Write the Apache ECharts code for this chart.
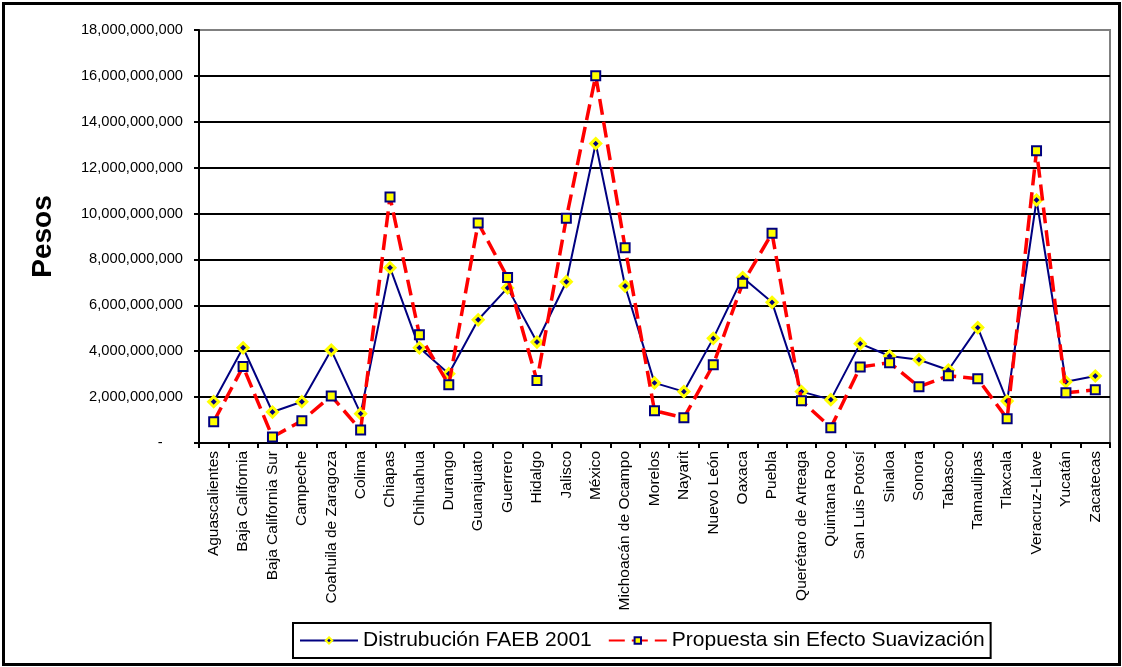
<!DOCTYPE html>
<html>
<head>
<meta charset="utf-8">
<script src="https://cdn.jsdelivr.net/npm/echarts@6/dist/echarts.min.js"></script>
<style>
  html, body { margin: 0; padding: 0; background: #fff; }
  #chart { width: 1122px; height: 667px; }
</style>
</head>
<body>
<div id="chart"></div>
<script>
const categories = [
  'Aguascalientes', 'Baja California', 'Baja California Sur', 'Campeche',
  'Coahuila de Zaragoza', 'Colima', 'Chiapas', 'Chihuahua', 'Durango',
  'Guanajuato', 'Guerrero', 'Hidalgo', 'Jalisco', 'México',
  'Michoacán de Ocampo', 'Morelos', 'Nayarit', 'Nuevo León', 'Oaxaca',
  'Puebla', 'Querétaro de Arteaga', 'Quintana Roo', 'San Luis Potosí',
  'Sinaloa', 'Sonora', 'Tabasco', 'Tamaulipas', 'Tlaxcala',
  'Veracruz-Llave', 'Yucatán', 'Zacatecas'
];

const seriesNames = ['Distrubución FAEB 2001', 'Propuesta sin Efecto Suavización'];

// values in pesos
const faeb2001 = [
  1.80e9, 4.15e9, 1.35e9, 1.80e9, 4.05e9, 1.28e9, 7.64e9, 4.15e9, 3.02e9,
  5.37e9, 6.76e9, 4.40e9, 7.03e9, 13.05e9, 6.84e9, 2.62e9, 2.24e9, 4.56e9,
  7.21e9, 6.13e9, 2.24e9, 1.89e9, 4.33e9, 3.79e9, 3.63e9, 3.18e9, 5.03e9,
  1.83e9, 10.59e9, 2.67e9, 2.92e9
];

const propuesta = [
  0.93e9, 3.33e9, 0.26e9, 0.97e9, 2.05e9, 0.57e9, 10.72e9, 4.72e9, 2.54e9,
  9.59e9, 7.21e9, 2.72e9, 9.80e9, 16.01e9, 8.51e9, 1.41e9, 1.10e9, 3.41e9,
  6.96e9, 9.14e9, 1.84e9, 0.67e9, 3.31e9, 3.50e9, 2.45e9, 2.93e9, 2.80e9,
  1.06e9, 12.74e9, 2.19e9, 2.32e9
];

const yMin = 0, yMax = 18e9, yInterval = 2e9;
const yAxisTitle = 'Pesos';

const FONT = "'Liberation Sans', Arial, sans-serif";

function fmt(v) {
  if (v === 0) return '-     ';
  return Math.round(v).toString().replace(/\B(?=(\d{3})+(?!\d))/g, ',');
}

const chart = echarts.init(document.getElementById('chart'), null, { renderer: 'canvas' });

chart.setOption({
  animation: false,
  backgroundColor: '#ffffff',
  textStyle: { fontFamily: FONT },
  graphic: [{
    type: 'rect',
    shape: { x: 3.5, y: 3.5, width: 1116, height: 661 },
    style: { fill: 'none', stroke: '#000', lineWidth: 3 },
    z: 100, silent: true
  }],
  grid: {
    left: 199, top: 30, right: 12, bottom: 224,
    show: true, borderColor: '#808080', borderWidth: 2, backgroundColor: '#fff'
  },
  legend: {
    left: 293, top: 623,
    padding: [7, 6, 7, 6],
    itemWidth: 58, itemHeight: 8, itemGap: 16,
    borderColor: '#000', borderWidth: 2,
    textStyle: { fontFamily: FONT, fontSize: 21, color: '#000' },
    data: seriesNames
  },
  xAxis: {
    type: 'category',
    data: categories,
    boundaryGap: true,
    axisLine: { lineStyle: { color: '#000', width: 2 } },
    axisTick: { show: true, alignWithLabel: false, length: 5, lineStyle: { color: '#000', width: 2 } },
    axisLabel: {
      rotate: 90, interval: 0, margin: 8,
      fontFamily: FONT, fontSize: 15.5, color: '#000'
    },
    splitLine: { show: false }
  },
  yAxis: {
    type: 'value',
    min: yMin, max: yMax, interval: yInterval,
    name: yAxisTitle,
    nameLocation: 'middle',
    nameGap: 142,
    nameRotate: 90,
    nameTextStyle: { fontFamily: FONT, fontSize: 28, fontWeight: 'bold', color: '#000' },
    axisLine: { show: true, lineStyle: { color: '#000', width: 2 } },
    axisTick: { show: true, length: 5, lineStyle: { color: '#000', width: 2 } },
    axisLabel: {
      margin: 16, fontFamily: FONT, fontSize: 14.7, color: '#000',
      formatter: fmt
    },
    splitLine: { show: true, showMaxLine: false, showMinLine: false, lineStyle: { color: '#000', width: 1.8 } }
  },
  series: [
    {
      name: seriesNames[0],
      type: 'line',
      data: faeb2001,
      symbol: 'diamond',
      symbolSize: 10,
      showAllSymbol: true,
      lineStyle: { color: '#000080', width: 2 },
      itemStyle: { color: '#000080', borderColor: '#FFFF00', borderWidth: 3 },
      z: 2
    },
    {
      name: seriesNames[1],
      type: 'line',
      data: propuesta,
      symbol: 'rect',
      symbolSize: 9,
      showAllSymbol: true,
      lineStyle: { color: '#FF0000', width: 3.5, type: [16, 7] },
      itemStyle: { color: '#FFFF00', borderColor: '#000080', borderWidth: 2 },
      z: 3
    }
  ]
});
</script>
</body>
</html>
